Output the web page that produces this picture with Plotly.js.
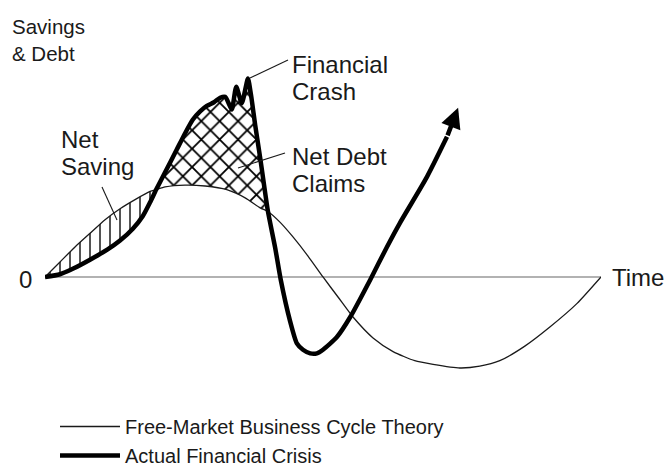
<!DOCTYPE html>
<html><head><meta charset="utf-8">
<script src="https://cdn.plot.ly/plotly-3.0.1.min.js"></script>
<style>html,body{margin:0;padding:0;background:#fff;width:665px;height:468px;overflow:hidden}#chart{width:665px;height:475px}</style>
</head><body><div id="chart"></div>
<script>
// Time axis (0 = start of cycle, 100 = end of cycle); value axis: savings & debt (relative units)
const theoryTime  = [0, 2.7, 5.4, 8.1, 10.8, 13.5, 16.2, 18.9, 20.0, 21.6, 25.2, 28.8, 32.7, 36.0, 38.7, 40.1, 42.3, 44.6, 47.3, 50.0, 52.7, 55.4, 59.0, 62.6, 66.5, 69.8, 74.6, 78.2, 81.8, 86.3, 90.8, 95.7, 100];
const theoryValue = [0, 1.65, 3.3, 4.8, 6.3, 7.5, 8.5, 9.4, 9.6, 9.9, 10.1, 10.0, 9.6, 8.7, 7.6, 7.2, 6.0, 4.4, 2.3, 0, -2.2, -4.4, -6.7, -8.2, -9.2, -9.6, -10.0, -9.8, -9.2, -7.6, -5.5, -2.9, 0];

const crisisTime  = [0, 2.7, 5.0, 8.1, 11.2, 13.5, 15.8, 17.6, 18.9, 20.0, 21.6, 23.7, 25.2, 26.6, 27.9, 29.1, 30.4, 31.5, 32.4, 33.1, 33.6, 34.4, 35.4, 36.5, 37.05, 37.8, 38.7, 39.4, 40.1, 41.4, 42.4, 44.1, 45.3, 46.4, 47.7, 48.9, 50.0, 52.5, 54.9, 58.5, 61.5, 63.8, 68.7, 72.3, 74.3];
const crisisValue = [0, 0.3, 0.9, 1.9, 3.0, 4.0, 5.3, 6.7, 8.2, 9.6, 11.5, 14.0, 15.8, 17.3, 18.2, 18.8, 19.2, 19.7, 19.8, 19.0, 18.4, 20.9, 19.1, 21.8, 20.0, 16.7, 13.1, 10.1, 7.2, 3.2, -0.3, -4.9, -7.3, -8.0, -8.4, -8.4, -8.0, -6.6, -4.4, -0.3, 3.3, 5.9, 11.0, 15.4, 18.6];

// Where the two curves meet
const netSavingSpan = [0, 20.0];
const netDebtSpan   = [20.0, 40.1];

const seriesNames = ['Free-Market Business Cycle Theory', 'Actual Financial Crisis'];

function segment(xs, ys, a, b) {
  const x = [], y = [];
  xs.forEach((v, i) => { if (v >= a - 1e-9 && v <= b + 1e-9) { x.push(v); y.push(ys[i]); } });
  return {x, y};
}

const SM = 0.6;
const FONT = 'Liberation Sans, Arial, Helvetica, sans-serif';
const INK = '#1a1a1a';

const sCrisisA = segment(crisisTime, crisisValue, netSavingSpan[0], netSavingSpan[1]);
const sTheoryA = segment(theoryTime, theoryValue, netSavingSpan[0], netSavingSpan[1]);
const sTheoryB = segment(theoryTime, theoryValue, netDebtSpan[0], netDebtSpan[1]);
const sCrisisB = segment(crisisTime, crisisValue, netDebtSpan[0], netDebtSpan[1]);

const n = crisisTime.length;

const traces = [
  {x: sCrisisA.x, y: sCrisisA.y, mode: 'lines', line: {width: 0, shape: 'spline', smoothing: SM}, showlegend: false, hoverinfo: 'skip'},
  {x: sTheoryA.x, y: sTheoryA.y, mode: 'lines', line: {width: 0, shape: 'spline', smoothing: SM}, showlegend: false, hoverinfo: 'skip',
   fill: 'tonexty', fillcolor: 'rgba(255,255,255,0)',
   fillpattern: {shape: '|', size: 10, solidity: 0.15, fgcolor: INK, bgcolor: 'rgba(255,255,255,0)'}},
  {x: sTheoryB.x, y: sTheoryB.y, mode: 'lines', line: {width: 0, shape: 'spline', smoothing: SM}, showlegend: false, hoverinfo: 'skip'},
  {x: sCrisisB.x, y: sCrisisB.y, mode: 'lines', line: {width: 0, shape: 'spline', smoothing: SM}, showlegend: false, hoverinfo: 'skip',
   fill: 'tonexty', fillcolor: 'rgba(255,255,255,0)',
   fillpattern: {shape: 'x', size: 13, solidity: 0.26, fgcolor: '#000', bgcolor: 'rgba(255,255,255,0)'}},
  {x: theoryTime, y: theoryValue, mode: 'lines', name: seriesNames[0],
   line: {color: INK, width: 1.3, shape: 'spline', smoothing: SM}},
  {x: crisisTime.slice(0, n - 1), y: crisisValue.slice(0, n - 1), mode: 'lines', name: seriesNames[1],
   line: {color: '#000', width: 4.5, shape: 'spline', smoothing: SM}}
];

// pixel -> paper helpers for label placement (plot area spans x 45..601, y 20..475)
const PX = px => (px - 45) / 556;
const PY = py => (475 - py) / 455;
function lbl(text, px, baseline, size) {
  return {text: text, xref: 'paper', yref: 'paper', x: PX(px), y: PY(baseline - 0.35 * size),
          xanchor: 'left', yanchor: 'middle', showarrow: false, borderpad: 0,
          font: {family: FONT, size: size, color: INK}};
}
function pointer(x0, y0, x1, y1) {
  return {type: 'line', xref: 'paper', yref: 'paper', x0: PX(x0), y0: PY(y0), x1: PX(x1), y1: PY(y1),
          line: {color: INK, width: 1.1}};
}

const annotations = [
  {text: 'Savings<br>&amp; Debt', xref: 'paper', yref: 'paper', x: PX(11), y: PY(14), xanchor: 'left', yanchor: 'top',
   align: 'left', showarrow: false, borderpad: 0, font: {family: FONT, size: 20.5, color: INK}},
  lbl('Financial', 291, 73, 24),
  lbl('Crash', 291, 100, 24),
  lbl('Net', 60, 148, 24),
  lbl('Saving', 60, 175, 24),
  lbl('Net Debt', 291, 165, 24),
  lbl('Claims', 291, 192, 24),
  lbl('Time', 611, 286, 24),
  lbl('0', 18, 288, 24),
  {x: crisisTime[n - 1], y: crisisValue[n - 1], ax: crisisTime[n - 2], ay: crisisValue[n - 2],
   xref: 'x', yref: 'y', axref: 'x', ayref: 'y', text: '', showarrow: true,
   arrowhead: 2, arrowsize: 0.9, arrowwidth: 4.5, arrowcolor: '#000'}
];

const layout = {
  width: 665, height: 475,
  margin: {l: 45, r: 64, t: 20, b: 0},
  paper_bgcolor: '#fff', plot_bgcolor: '#fff',
  showlegend: true,
  legend: {x: PX(55), y: 0, xanchor: 'left', yanchor: 'bottom', bgcolor: 'rgba(0,0,0,0)', traceorder: 'normal',
           font: {family: FONT, size: 20, color: INK}, itemwidth: 60, tracegroupgap: 0},
  xaxis: {range: [0, 100], showgrid: false, zeroline: false, showticklabels: false, showline: false, ticks: '', fixedrange: true},
  yaxis: {range: [-21.76, 28.24], showgrid: false, zeroline: false, showticklabels: false, showline: false, ticks: '', fixedrange: true},
  annotations: annotations,
  shapes: [
    {type: 'line', xref: 'x', yref: 'y', x0: 0, x1: 100, y0: 0, y1: 0, line: {color: '#999', width: 1.5}, layer: 'below'},
    pointer(250, 78, 288, 60),
    pointer(238, 168, 285, 153),
    pointer(102, 187, 117, 220)
  ]
};

Plotly.newPlot('chart', traces, layout, {displayModeBar: false, staticPlot: true});
</script></body></html>
